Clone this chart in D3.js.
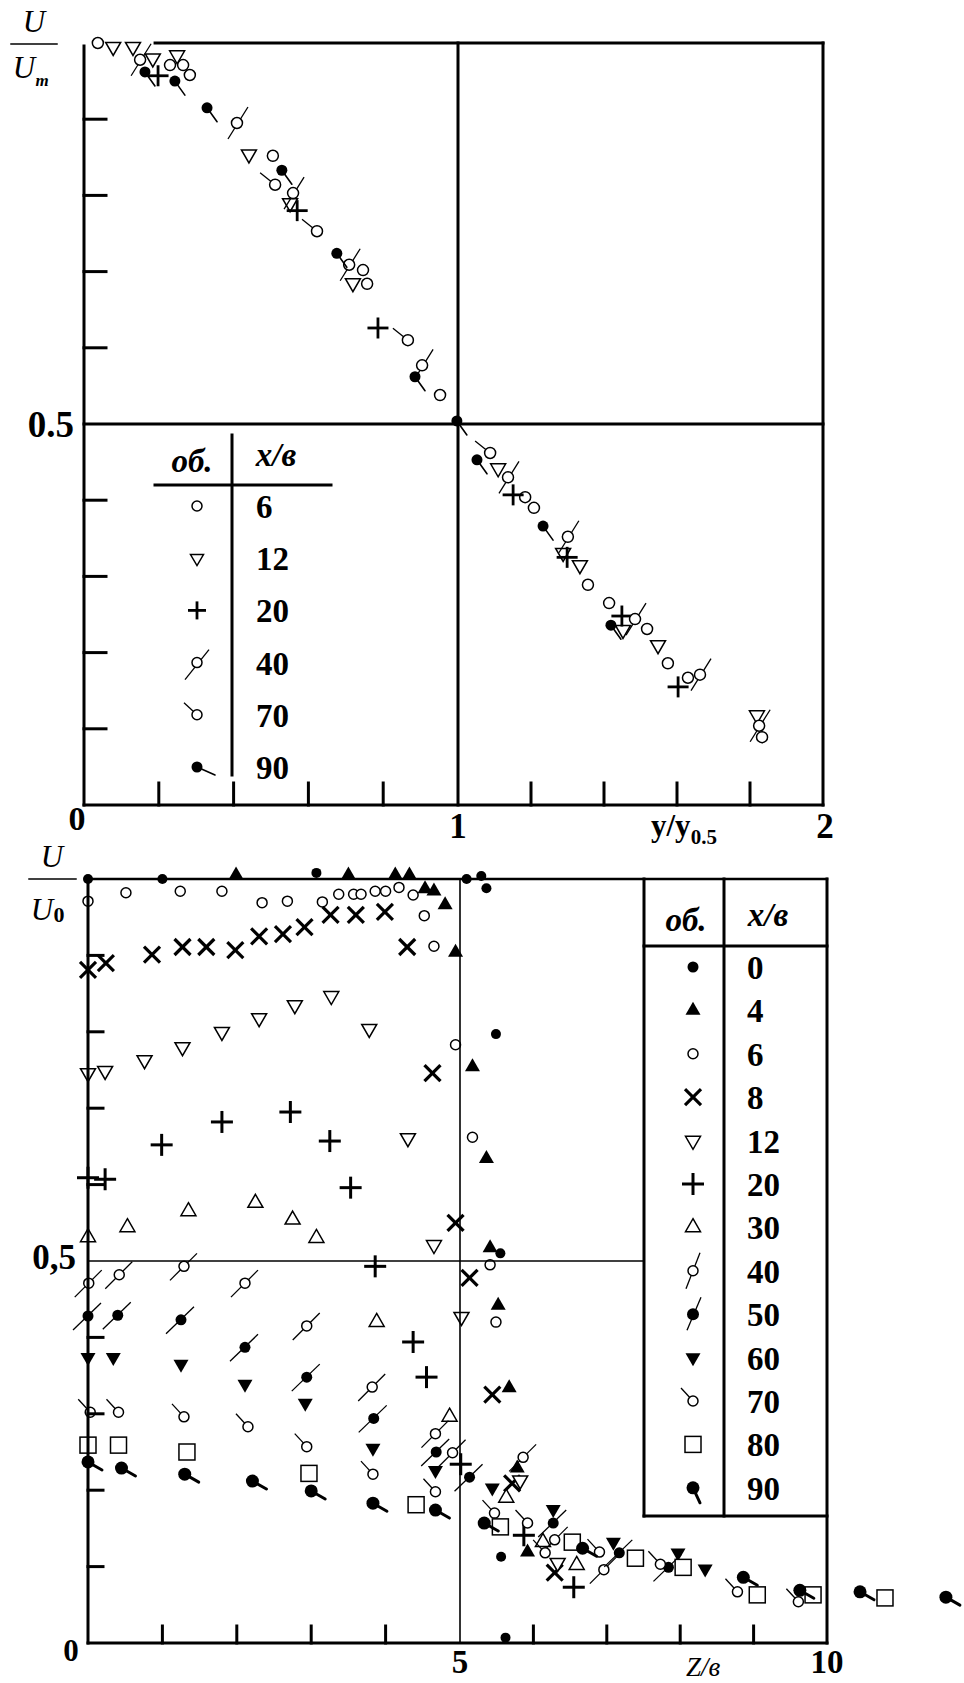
<!DOCTYPE html>
<html><head><meta charset="utf-8">
<script src="https://cdn.jsdelivr.net/npm/d3@7"></script>
<style>body{margin:0;background:#fff}svg{display:block}text{font-family:"Liberation Serif","Times New Roman",serif;fill:#000}</style>
</head><body>
<svg id="c" width="964" height="1683"></svg>
<script>
// ---------------- DATA (top chart: x = y/y0.5, y = U/Um) ----------------
const topXTicks=[0.2,0.4,0.6,0.8,1.2,1.4,1.6,1.8];
const topYTicks=[0.1,0.2,0.3,0.4,0.6,0.7,0.8,0.9];
const top6=[[0.037,1.000],[0.230,0.971],[0.265,0.971],[0.283,0.958],[0.505,0.852],[0.746,0.702],[0.757,0.684],[0.952,0.538],[1.184,0.404],[1.208,0.390],[1.356,0.289],[1.414,0.265],[1.518,0.231],[1.575,0.186],[1.630,0.167],[1.833,0.089]];
const top12=[[0.078,0.995],[0.131,0.995],[0.184,0.980],[0.249,0.984],[0.441,0.854],[0.551,0.790],[0.719,0.685],[1.110,0.442],[1.288,0.331],[1.334,0.315],[1.452,0.230],[1.548,0.210],[1.819,0.118]];
const top20=[[0.198,0.957],[0.570,0.780],[0.786,0.626],[1.151,0.407],[1.299,0.325],[1.449,0.248],[1.603,0.155]];
const top40=[[0.150,0.978],[0.409,0.895],[0.559,0.803],[0.709,0.709],[0.904,0.577],[1.137,0.430],[1.301,0.352],[1.485,0.244],[1.663,0.171],[1.825,0.104]];
const top70=[[0.511,0.814],[0.623,0.753],[0.866,0.610],[1.088,0.462]];
const top90=[[0.163,0.962],[0.243,0.950],[0.329,0.915],[0.529,0.833],[0.676,0.724],[0.885,0.562],[0.997,0.504],[1.052,0.453],[1.233,0.366],[1.419,0.236]];
const topLegendLabels=["6","12","20","40","70","90"];

// ---------------- DATA (bottom chart: x = Z/в, y = U/U0) ----------------
const botXTicks=[1,2,3,4,6,7,8,9];
const botYTicks=[0.1,0.2,0.3,0.4,0.6,0.7,0.8,0.9];
const bot0=[[0,1.0],[1.0,1.0],[3.07,1.008],[5.09,1.0],[5.29,1.004],[5.36,0.988],[5.49,0.797],[5.55,0.510],[5.56,0.113],[5.62,0.007]];
const bot4=[[1.99,1.005],[3.50,1.005],[4.13,1.005],[4.32,1.005],[4.53,0.987],[4.65,0.984],[4.80,0.966],[4.94,0.904],[5.17,0.754],[5.36,0.634],[5.41,0.517],[5.52,0.442],[5.67,0.334],[5.78,0.229],[5.92,0.119]];
const bot6=[[0,0.971],[0.51,0.982],[1.24,0.984],[1.80,0.984],[2.34,0.969],[2.68,0.971],[3.15,0.970],[3.37,0.980],[3.57,0.980],[3.67,0.980],[3.86,0.984],[4.00,0.984],[4.18,0.989],[4.37,0.979],[4.52,0.952],[4.65,0.912],[4.94,0.783],[5.17,0.662],[5.41,0.495],[5.49,0.420]];
const bot8=[[0,0.881],[0.24,0.890],[0.86,0.901],[1.27,0.911],[1.59,0.911],[1.98,0.907],[2.30,0.925],[2.62,0.928],[2.91,0.937],[3.26,0.953],[3.60,0.953],[3.99,0.957],[4.29,0.911],[4.63,0.746],[4.94,0.550],[5.13,0.478],[5.44,0.325],[5.71,0.209],[6.29,0.092]];
const bot12=[[0,0.746],[0.23,0.749],[0.76,0.763],[1.27,0.780],[1.80,0.800],[2.30,0.818],[2.78,0.835],[3.27,0.847],[3.78,0.804],[4.30,0.661],[4.65,0.521],[5.02,0.427],[5.82,0.213],[6.33,0.105]];
const bot20=[[0,0.609],[0.23,0.607],[0.99,0.652],[1.80,0.682],[2.72,0.695],[3.25,0.657],[3.53,0.596],[3.86,0.493],[4.37,0.394],[4.55,0.348],[5.01,0.234],[5.87,0.141],[6.55,0.073]];
const bot30=[[0,0.531],[0.53,0.544],[1.35,0.565],[2.25,0.576],[2.75,0.554],[3.07,0.530],[3.88,0.420],[4.86,0.296],[5.63,0.190],[6.13,0.132],[6.59,0.102]];
const bot40=[[0.01,0.471],[0.42,0.482],[1.29,0.493],[2.11,0.471],[2.94,0.415],[3.82,0.335],[4.67,0.274],[4.90,0.249],[5.86,0.243],[6.29,0.135],[6.96,0.096]];
const bot50=[[0,0.428],[0.40,0.429],[1.25,0.423],[2.11,0.387],[2.94,0.348],[3.84,0.294],[4.68,0.250],[5.13,0.217],[6.27,0.157],[7.17,0.118],[7.84,0.099]];
const bot60=[[0,0.374],[0.34,0.374],[1.25,0.365],[2.11,0.339],[2.92,0.314],[3.83,0.255],[4.67,0.226],[5.44,0.203],[6.27,0.175],[7.09,0.132],[7.97,0.118],[8.34,0.097]];
const bot70=[[0.03,0.302],[0.41,0.302],[1.29,0.296],[2.15,0.283],[2.94,0.257],[3.83,0.221],[4.67,0.198],[5.47,0.170],[5.92,0.157],[6.16,0.118],[6.90,0.119],[7.73,0.103],[8.78,0.067],[9.61,0.054]];
const bot80=[[0,0.259],[0.41,0.259],[1.33,0.250],[2.97,0.222],[4.41,0.181],[5.55,0.152],[6.53,0.132],[7.39,0.111],[8.04,0.099],[9.05,0.063],[9.81,0.063],[10.79,0.059]];
const bot90=[[0,0.237],[0.45,0.229],[1.30,0.221],[2.21,0.212],[3.00,0.199],[3.83,0.183],[4.67,0.174],[5.33,0.157],[6.67,0.124],[8.86,0.086],[9.63,0.069],[10.45,0.067],[11.62,0.060]];
const botLegendLabels=["0","4","6","8","12","20","30","40","50","60","70","80","90"];

// ---------------- SETUP ----------------
const svg=d3.select("#c");
const K="#000";
const topX=d3.scaleLinear().domain([0,1,2]).range([84,458,823]);
const topY=d3.scaleLinear().domain([0,1]).range([805,43]);
const botX=d3.scaleLinear().domain([0,5,10]).range([88,460,827]);
const botY=d3.scaleLinear().domain([0,1]).range([1643,879]);

function tri(w,h,up){
  return up?`M0,${-2*h/3}L${w/2},${h/3}L${-w/2},${h/3}Z`:`M${-w/2},${-h/3}L${w/2},${-h/3}L0,${2*h/3}Z`;
}
function drawMarker(g,type,st){
  const line=(x1,y1,x2,y2,w,cap)=>g.append("line").attr("x1",x1).attr("y1",y1).attr("x2",x2).attr("y2",y2)
     .attr("stroke",K).attr("stroke-width",w).attr("stroke-linecap",cap||"butt");
  const open=r=>g.append("circle").attr("r",r).attr("fill","#fff").attr("stroke",K).attr("stroke-width",st.sw);
  const dot=r=>g.append("circle").attr("r",r).attr("fill",K);
  switch(type){
    case "dot": dot(st.dotR); break;
    case "circle": open(st.r); break;
    case "triUp": g.append("path").attr("d",tri(st.tw,st.th,true)).attr("fill",K); break;
    case "triUpOpen": g.append("path").attr("d",tri(st.tw,st.th,true)).attr("fill","#fff").attr("stroke",K).attr("stroke-width",st.sw); break;
    case "triDown": g.append("path").attr("d",tri(st.tw,st.th,false)).attr("fill","#fff").attr("stroke",K).attr("stroke-width",st.sw); break;
    case "triDownFilled": g.append("path").attr("d",tri(st.tw,st.th,false)).attr("fill",K); break;
    case "plus": line(-st.pl,0,st.pl,0,st.pw); line(0,-st.pl,0,st.pl,st.pw); break;
    case "cross": line(-st.xl,-st.xl,st.xl,st.xl,st.xw); line(-st.xl,st.xl,st.xl,-st.xl,st.xw); break;
    case "square": g.append("rect").attr("x",-st.sq/2).attr("y",-st.sq/2).attr("width",st.sq).attr("height",st.sq).attr("fill","#fff").attr("stroke",K).attr("stroke-width",st.sw); break;
    case "flag40": line(st.f40[0],st.f40[1],st.f40[2],st.f40[3],st.fw); open(st.r); break;
    case "flag50": line(st.f50[0],st.f50[1],st.f50[2],st.f50[3],st.fw); dot(st.dotR+0.5); break;
    case "flag70": line(0,0,st.f70[0],st.f70[1],st.fw); open(st.r); break;
    case "flag90": line(0,0,st.f90[0],st.f90[1],st.f90w,"round"); dot(st.r90); break;
  }
}
function plotSeries(series,xs,ys,st){
  series.forEach(s=>{
    const gs=svg.append("g");
    gs.selectAll("g").data(s.data).join("g")
      .attr("transform",d=>`translate(${xs(d[0])},${ys(d[1])})`)
      .each(function(){drawMarker(d3.select(this),s.m,st);});
  });
}
function L(x1,y1,x2,y2,w){svg.append("line").attr("x1",x1).attr("y1",y1).attr("x2",x2).attr("y2",y2).attr("stroke",K).attr("stroke-width",w).attr("stroke-linecap","square");}
function T(x,y,txt,size,opts){
  const t=svg.append("text").attr("x",x).attr("y",y).attr("font-size",size).text(txt);
  opts=opts||{};
  t.attr("text-anchor",opts.anchor||"middle").attr("font-weight",opts.bold===false?"normal":"bold");
  if(opts.italic) t.attr("font-style","italic");
  return t;
}

// ---------------- TOP CHART ----------------
const topStyle={r:5.5,dotR:5.5,sw:1.5,tw:15,th:13,pl:10.5,pw:2.8,xl:8,xw:3,sq:15,
  f40:[-9,16,11,-16],f70:[-15,-12],f90:[10,14],fw:1.3,f90w:1.6,r90:5.5};
const topSeries=[
  {label:topLegendLabels[0],data:top6,m:"circle"},
  {label:topLegendLabels[1],data:top12,m:"triDown"},
  {label:topLegendLabels[2],data:top20,m:"plus"},
  {label:topLegendLabels[3],data:top40,m:"flag40"},
  {label:topLegendLabels[4],data:top70,m:"flag70"},
  {label:topLegendLabels[5],data:top90,m:"flag90"}];
plotSeries(topSeries,topX,topY,topStyle);

L(topX(0),topY(1)+3,topX(0),topY(0),3);
L(topX(0),topY(0),topX(2),topY(0),3);
L(topX(2),topY(1),topX(2),topY(0),3);
L(topX(0.19),topY(1),topX(2),topY(1),3);
L(topX(1),topY(1),topX(1),topY(0),3);
L(topX(0),topY(0.5),topX(2),topY(0.5),3);
topXTicks.forEach(v=>L(topX(v),topY(0),topX(v),topY(0)-22,3));
topYTicks.forEach(v=>L(topX(0),topY(v),topX(0)+22,topY(v),3));
T(topX(0)-7,830,"0",34);
T(topX(1),838,"1",35);
T(topX(2)+2,838,"2",35);
T(74,437,"0.5",37,{anchor:"end"});
const ylab=T(651,836,"y/y",31,{anchor:"start"});
ylab.append("tspan").attr("font-size",21).attr("dy",8).text("0.5");
T(34,32,"U",31,{italic:true,bold:false});
L(11,44,57,44,1.5);
T(24,78,"U",31,{italic:true,bold:false});
T(42,86,"m",17,{italic:true,bold:true});
// legend
L(232,435,232,775,3);
L(155,485,331,485,3);
T(192,472,"об.",33,{italic:true});
T(276,466,"x/в",33,{italic:true});
topSeries.forEach((s,i)=>{
  const y=506+i*52.2;
  const g=svg.append("g").attr("transform",`translate(197,${y})`);
  const st=Object.assign({},topStyle,{r:5,tw:13,th:11,pl:9,f40:[-12,17,12,-13],f70:[-13,-12],f90:[18,8]});
  drawMarker(g,s.m,st);
  T(256,y+12,s.label,33,{anchor:"start"});
});

// ---------------- BOTTOM CHART ----------------
const botStyle={r:5,dotR:5,sw:1.5,tw:15,th:13,pl:11,pw:3,xl:8,xw:3.2,sq:16,
  f40:[-14,14,13,-13],f50:[-15,14,13,-13],f70:[-12,-13],f90:[14,8],fw:1.3,f90w:3,r90:6.5};
const botSeries=[
  {label:botLegendLabels[0],data:bot0,m:"dot"},
  {label:botLegendLabels[1],data:bot4,m:"triUp"},
  {label:botLegendLabels[2],data:bot6,m:"circle"},
  {label:botLegendLabels[3],data:bot8,m:"cross"},
  {label:botLegendLabels[4],data:bot12,m:"triDown"},
  {label:botLegendLabels[5],data:bot20,m:"plus"},
  {label:botLegendLabels[6],data:bot30,m:"triUpOpen"},
  {label:botLegendLabels[7],data:bot40,m:"flag40"},
  {label:botLegendLabels[8],data:bot50,m:"flag50"},
  {label:botLegendLabels[9],data:bot60,m:"triDownFilled"},
  {label:botLegendLabels[10],data:bot70,m:"flag70"},
  {label:botLegendLabels[11],data:bot80,m:"square"},
  {label:botLegendLabels[12],data:bot90,m:"flag90"}];
plotSeries(botSeries,botX,botY,botStyle);

L(botX(0),botY(1),botX(0),botY(0),3);
L(botX(0),botY(0),botX(10),botY(0),3);
L(botX(0),botY(1),botX(10),botY(1),2.5);
L(botX(10),botY(1),botX(10),botY(0),3);
L(botX(5),botY(1),botX(5),botY(0),1.6);
L(botX(0),botY(0.5),644,botY(0.5),1.6);
botXTicks.forEach(v=>L(botX(v),botY(0),botX(v),botY(0)-17,3));
botYTicks.forEach(v=>L(botX(0),botY(v),botX(0)+15,botY(v),3));
L(644,botY(1),644,1516,3);
L(724,botY(1),724,1516,3);
L(644,1516,botX(10),1516,3);
L(644,946,botX(10),946,3);
T(686,931,"об.",33,{italic:true});
T(768,926,"x/в",33,{italic:true});
botSeries.forEach((s,i)=>{
  const y=967+i*43.4;
  const g=svg.append("g").attr("transform",`translate(693,${y})`);
  const st=Object.assign({},botStyle,{dotR:5.5,f40:[-7,18,7,-18],f50:[-6,16,8,-17],f70:[-12,-13],f90:[7,15]});
  drawMarker(g,s.m,st);
  T(747,y+12,s.label,33,{anchor:"start"});
});
T(71,1661,"0",31);
T(botX(5),1673,"5",33);
T(botX(10),1673,"10",33);
T(76,1269,"0,5",35,{anchor:"end"});
T(703,1676,"Z/в",27,{italic:true,bold:false});
T(52,867,"U",31,{italic:true,bold:false});
L(29,879,76,879,1.5);
T(42,920,"U",31,{italic:true,bold:false});
T(59,922,"0",22);
</script>
</body></html>
